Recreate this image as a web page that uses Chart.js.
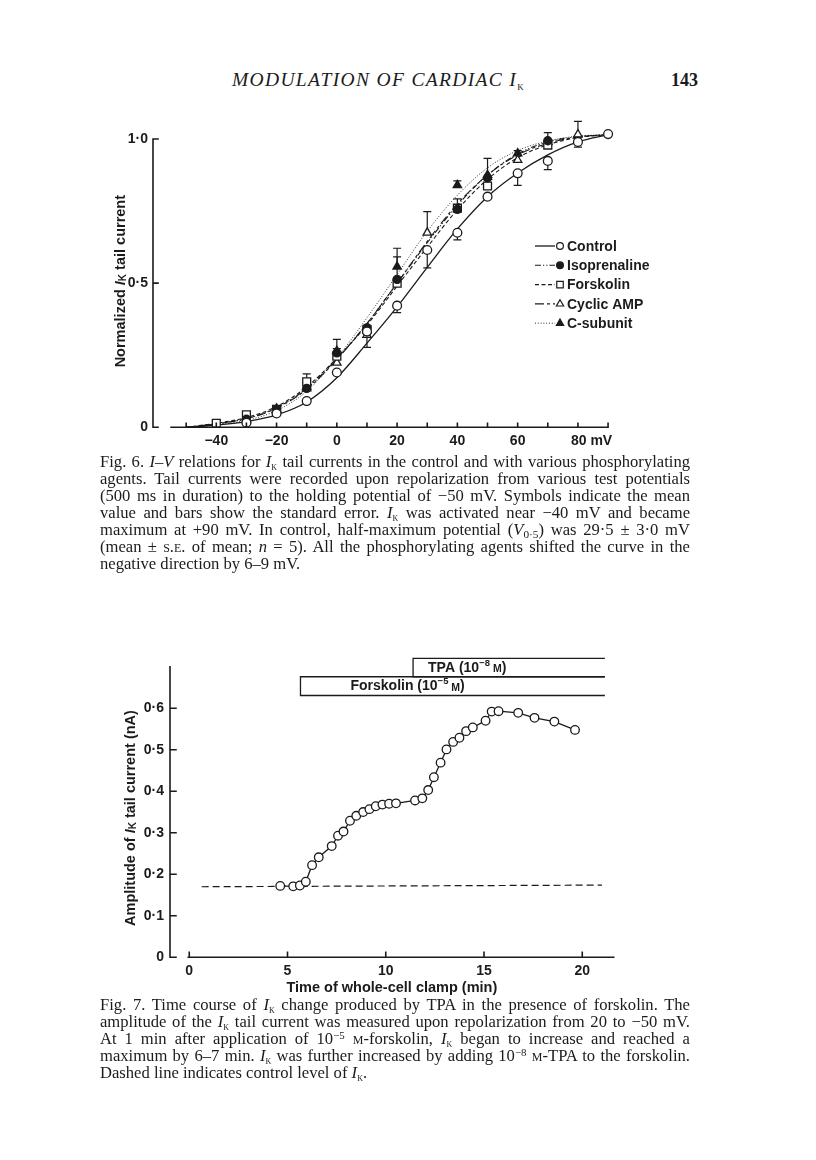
<!DOCTYPE html>
<html>
<head>
<meta charset="utf-8">
<script src="https://cdn.jsdelivr.net/npm/chart.js@4.4.1/dist/chart.umd.min.js"></script>
<style>
  html, body { margin:0; padding:0; background:#fff; }
  body { width:816px; height:1160px; position:relative; overflow:hidden; color:#1b1b1b;
         font-family:"Liberation Serif","Times New Roman",serif; }
  .hdr { position:absolute; top:70px; font-size:19.5px; line-height:20px; white-space:nowrap; }
  .cap { position:absolute; left:100px; width:590px; font-size:16.6px; line-height:17px; }
  .cap .ln { height:17px; text-align:justify; text-align-last:justify; white-space:nowrap; }
  .cap .ln.last { text-align:left; text-align-last:left; }
  .cap .ln.measure { text-align:left; text-align-last:left; }
  sub { font-size:0.68em; vertical-align:-0.28em; line-height:0; }
  sup { font-size:0.66em; vertical-align:0.5em; line-height:0; }
  .sc { font-variant:small-caps; }
  canvas { position:absolute; }
</style>
</head>
<body>
<div class="hdr" id="runhead" style="left:232px;"><i>MODULATION OF CARDIAC I</i><sub class="sc">k</sub></div>
<div class="hdr" style="left:671px;font-weight:bold;font-size:18px;">143</div>

<canvas id="fig6" width="560" height="350" style="left:90px;top:110px;width:560px;height:350px;"></canvas>

<div class="cap" style="top:453px;">
  <div class="ln"><span>Fig. 6. <i>I–V</i> relations for <i>I</i><sub class="sc">k</sub> tail currents in the control and with various phosphorylating</span></div>
  <div class="ln"><span>agents. Tail currents were recorded upon repolarization from various test potentials</span></div>
  <div class="ln"><span>(500 ms in duration) to the holding potential of −50 mV. Symbols indicate the mean</span></div>
  <div class="ln"><span>value and bars show the standard error. <i>I</i><sub class="sc">k</sub> was activated near −40 mV and became</span></div>
  <div class="ln"><span>maximum at +90 mV. In control, half-maximum potential (<i>V</i><sub>0·5</sub>) was 29·5 ± 3·0 mV</span></div>
  <div class="ln"><span>(mean ± <span class="sc">s.e.</span> of mean; <i>n</i> = 5). All the phosphorylating agents shifted the curve in the</span></div>
  <div class="ln last"><span>negative direction by 6–9 mV.</span></div>
</div>

<canvas id="fig7" width="540" height="370" style="left:100px;top:640px;width:540px;height:370px;"></canvas>

<div class="cap" style="top:996px;">
  <div class="ln"><span>Fig. 7. Time course of <i>I</i><sub class="sc">k</sub> change produced by TPA in the presence of forskolin. The</span></div>
  <div class="ln"><span>amplitude of the <i>I</i><sub class="sc">k</sub> tail current was measured upon repolarization from 20 to −50 mV.</span></div>
  <div class="ln"><span>At 1 min after application of 10<sup>−5</sup> <span class="sc">m</span>-forskolin, <i>I</i><sub class="sc">k</sub> began to increase and reached a</span></div>
  <div class="ln"><span>maximum by 6–7 min. <i>I</i><sub class="sc">k</sub> was further increased by adding 10<sup>−8</sup> <span class="sc">m</span>-TPA to the forskolin.</span></div>
  <div class="ln last"><span>Dashed line indicates control level of <i>I</i><sub class="sc">k</sub>.</span></div>
</div>

<script>
// ---------------- DATA : Fig. 6 (I–V relations) ----------------
const fig6XTickValues = [-40, -20, 0, 20, 40, 60, 80];
const fig6XTickLabels = ['\u221240', '\u221220', '0', '20', '40', '60', '       80 mV'];
const fig6XMinorTicks = [-50, -40, -30, -20, -10, 0, 10, 20, 30, 40, 50, 60, 70, 80, 90];
const fig6YTickValues = [0, 0.5, 1.0];
const fig6YTickLabels = ['0', '0·5', '1·0'];

const ctrlV      = [-30, -20, -10, 0, 10, 20, 30, 40, 50, 60, 70, 80, 90];
const ctrlMean   = [0.016, 0.048, 0.091, 0.19, 0.332, 0.422, 0.615, 0.675, 0.80, 0.881, 0.924, 0.99, 1.017];
const ctrlErrDn  = [0, 0, 0, 0, 0.055, 0.024, 0.062, 0.025, 0, 0.042, 0.03, 0.018, 0];

const isoV       = [-30, -20, -10, 0, 10, 20, 40, 50, 70];
const isoMean    = [0.028, 0.062, 0.135, 0.258, 0.345, 0.513, 0.756, 0.865, 0.994];
const isoErrUp   = [0, 0, 0, 0.015, 0, 0.078, 0.036, 0, 0];

const forskV     = [-40, -30, -20, -10, 0, 10, 20, 40, 50, 70];
const forskMean  = [0.014, 0.043, 0.062, 0.158, 0.247, 0.34, 0.50, 0.76, 0.837, 0.979];
const forskErrUp = [0, 0, 0, 0.027, 0, 0, 0, 0, 0, 0.043];

const campV      = [-30, -20, -10, 0, 10, 30, 50, 60, 80];
const campMean   = [0.025, 0.06, 0.135, 0.224, 0.32, 0.675, 0.868, 0.927, 1.016];
const campErrUp  = [0, 0, 0, 0, 0, 0.073, 0.065, 0, 0.045];

const csubV      = [-20, -10, 0, 20, 40, 50, 60, 70];
const csubMean   = [0.065, 0.14, 0.265, 0.557, 0.84, 0.875, 0.95, 0.99];
const csubErrUp  = [0, 0, 0.04, 0.064, 0.015, 0, 0.01, 0];

// fitted curves
const curveV       = [-50, -40, -30, -20, -10, 0, 10, 20, 30, 40, 50, 60, 70, 80, 90];
const curveControl = [0, 0.008, 0.02, 0.043, 0.088, 0.172, 0.292, 0.418, 0.555, 0.688, 0.80, 0.882, 0.945, 0.99, 1.015];
const curveIso     = [0, 0.012, 0.03, 0.068, 0.135, 0.238, 0.36, 0.50, 0.64, 0.77, 0.875, 0.948, 0.99, 1.008, 1.015];
const curveForsk   = [0, 0.014, 0.034, 0.072, 0.14, 0.24, 0.355, 0.49, 0.625, 0.755, 0.86, 0.935, 0.98, 1.005, 1.015];
const curveCamp    = [0, 0.012, 0.03, 0.066, 0.132, 0.235, 0.36, 0.50, 0.645, 0.775, 0.875, 0.945, 0.985, 1.007, 1.015];
const curveCsub    = [0, 0.009, 0.024, 0.058, 0.125, 0.24, 0.38, 0.53, 0.68, 0.805, 0.90, 0.96, 0.993, 1.01, 1.015];

const fig6SeriesNames = ['Control', 'Isoprenaline', 'Forskolin', 'Cyclic AMP', 'C-subunit'];

// ---------------- DATA : Fig. 7 (time course) ----------------
const fig7XTickValues = [0, 5, 10, 15, 20];
const fig7XTickLabels = ['0', '5', '10', '15', '20'];
const fig7YTickValues = [0, 0.1, 0.2, 0.3, 0.4, 0.5, 0.6];
const fig7YTickLabels = ['0', '0·1', '0·2', '0·3', '0·4', '0·5', '0·6'];

const timeMin = [4.63, 5.29, 5.63, 5.93, 6.25, 6.59, 7.25, 7.57, 7.85, 8.18, 8.50, 8.85, 9.17, 9.49, 9.83,
                 10.17, 10.52, 11.49, 11.86, 12.16, 12.45, 12.79, 13.09, 13.43, 13.75, 14.09, 14.43,
                 15.08, 15.39, 15.74, 16.74, 17.57, 18.58, 19.63];
const ampNA   = [0.172, 0.171, 0.173, 0.182, 0.222, 0.241, 0.268, 0.293, 0.303, 0.329, 0.341, 0.350, 0.357, 0.364, 0.368,
                 0.370, 0.371, 0.378, 0.383, 0.403, 0.434, 0.469, 0.501, 0.519, 0.529, 0.545, 0.554,
                 0.570, 0.592, 0.593, 0.589, 0.577, 0.568, 0.548];
const controlLevelT = [0.63, 21.0];
const controlLevelA = [0.170, 0.174];

const drugNames     = ['Forskolin', 'TPA'];
const drugExponents = ['\u22125', '\u22128'];
const drugStartMin  = [5.66, 11.39];
const drugEndMin    = 21.15;
const drugBarTop    = [0.676, 0.7205];
const drugBarBottom = [0.6308, 0.676];

// ---------------- STYLE ----------------
const INK = '#1b1b1b';
const SANS = '"Liberation Sans", Arial, Helvetica, sans-serif';
const tickFont = { family: SANS, size: 14, weight: 'bold' };
const xy = (xs, ys) => xs.map((x, i) => ({ x, y: ys[i] }));

// ---------------- PLUGINS ----------------
const axesInward = {
  id: 'axesInward',
  afterDraw(chart, args, o) {
    const { ctx, chartArea } = chart, xs = chart.scales.x, ys = chart.scales.y;
    ctx.save();
    ctx.strokeStyle = INK; ctx.lineWidth = o.lw; ctx.lineCap = 'square';
    const xl = chartArea.left, y0 = ys.getPixelForValue(0);
    ctx.beginPath();
    ctx.moveTo(xl, ys.getPixelForValue(o.yLine[0])); ctx.lineTo(xl, ys.getPixelForValue(o.yLine[1]));
    o.yTicks.forEach(v => { const y = ys.getPixelForValue(v); ctx.moveTo(xl, y); ctx.lineTo(xl + o.yTickLen, y); });
    ctx.moveTo(xs.getPixelForValue(o.xLine[0]), y0); ctx.lineTo(xs.getPixelForValue(o.xLine[1]), y0);
    o.xTicks.forEach(v => { const x = xs.getPixelForValue(v); ctx.moveTo(x, y0); ctx.lineTo(x, y0 - o.xTickLen); });
    ctx.stroke();
    ctx.restore();
  }
};

const errorBars = {
  id: 'errorBars',
  beforeDatasetsDraw(chart, args, o) {
    const { ctx } = chart, ys = chart.scales.y;
    ctx.save(); ctx.strokeStyle = INK; ctx.lineWidth = o.lw;
    chart.data.datasets.forEach((ds, i) => {
      if (!ds.errUp && !ds.errDown) return;
      const meta = chart.getDatasetMeta(i);
      meta.data.forEach((pt, j) => {
        const v = ds.data[j].y;
        [[ds.errUp, 1], [ds.errDown, -1]].forEach(([arr, s]) => {
          if (!arr || !arr[j]) return;
          const y2 = ys.getPixelForValue(v + s * arr[j]);
          ctx.beginPath();
          ctx.moveTo(pt.x, pt.y); ctx.lineTo(pt.x, y2);
          ctx.moveTo(pt.x - o.cap, y2); ctx.lineTo(pt.x + o.cap, y2);
          ctx.stroke();
        });
      });
    });
    ctx.restore();
  }
};

function drawMarker(ctx, style, r, x, y, fill) {
  ctx.beginPath();
  if (style === 'circle') ctx.arc(x, y, r, 0, Math.PI * 2);
  else if (style === 'rect') { const s = r * Math.SQRT1_2; ctx.rect(x - s, y - s, 2 * s, 2 * s); }
  else { ctx.moveTo(x, y - r); ctx.lineTo(x + r * 0.866, y + r * 0.5); ctx.lineTo(x - r * 0.866, y + r * 0.5); ctx.closePath(); }
  ctx.fillStyle = fill; ctx.fill(); ctx.stroke();
}

const insideLegend = {
  id: 'insideLegend',
  afterDraw(chart, args, o) {
    const { ctx } = chart, dss = chart.data.datasets;
    ctx.save();
    o.pairs.forEach(([ci, pi], k) => {
      const y = o.y + k * o.step, c = dss[ci], p = dss[pi];
      ctx.strokeStyle = INK; ctx.lineWidth = c.borderWidth; ctx.setLineDash(c.borderDash || []);
      ctx.beginPath(); ctx.moveTo(o.x, y); ctx.lineTo(o.x + o.lineLen, y); ctx.stroke();
      ctx.setLineDash([]); ctx.lineWidth = 1.2;
      drawMarker(ctx, p.pointStyle, o.markR[p.pointStyle], o.x + o.lineLen + o.markGap, y, p.pointBackgroundColor);
      ctx.fillStyle = INK; ctx.font = `bold ${o.fontSize}px ${SANS}`; ctx.textBaseline = 'middle'; ctx.textAlign = 'left';
      ctx.fillText(p.label, o.x + o.lineLen + o.textGap, y + 1);
    });
    ctx.restore();
  }
};

function richWidth(ctx, segs) {
  return segs.reduce((w, s) => { ctx.font = s.font; return w + ctx.measureText(s.t).width; }, 0);
}
function drawRich(ctx, segs, x, y) {
  segs.forEach(s => { ctx.font = s.font; ctx.fillText(s.t, x, y + (s.dy || 0)); x += ctx.measureText(s.t).width; });
}

const yTitleRich = {
  id: 'yTitleRich',
  afterDraw(chart, args, o) {
    const { ctx, chartArea } = chart;
    ctx.save();
    ctx.fillStyle = INK; ctx.textBaseline = 'middle'; ctx.textAlign = 'left';
    ctx.translate(chartArea.left - o.dx, (chartArea.top + chartArea.bottom) / 2 + o.dy);
    ctx.rotate(-Math.PI / 2);
    const w = richWidth(ctx, o.segs);
    drawRich(ctx, o.segs, -w / 2, 0);
    ctx.restore();
  }
};

const drugBars = {
  id: 'drugBars',
  afterDraw(chart, args, o) {
    const { ctx } = chart, xs = chart.scales.x, ys = chart.scales.y;
    ctx.save();
    ctx.strokeStyle = INK; ctx.lineWidth = o.lw; ctx.fillStyle = INK; ctx.textBaseline = 'middle'; ctx.textAlign = 'left';
    drugNames.forEach((name, i) => {
      const xl = xs.getPixelForValue(drugStartMin[i]), xr = xs.getPixelForValue(drugEndMin);
      const yt = ys.getPixelForValue(drugBarTop[i]), yb = ys.getPixelForValue(drugBarBottom[i]);
      ctx.beginPath();
      ctx.moveTo(xr, yt); ctx.lineTo(xl, yt); ctx.lineTo(xl, yb); ctx.lineTo(xr, yb);
      ctx.stroke();
      const segs = [
        { t: name + ' (10', font: `bold ${o.fontSize}px ${SANS}` },
        { t: drugExponents[i], font: `bold ${o.supSize}px ${SANS}`, dy: -5 },
        { t: ' M', font: `bold ${o.scSize}px ${SANS}`, dy: 1 },
        { t: ')', font: `bold ${o.fontSize}px ${SANS}` }
      ];
      drawRich(ctx, segs, xl + o.textOffset[i], (yt + yb) / 2 + 0.5);
    });
    ctx.restore();
  }
};

// ---------------- FIG. 6 ----------------
const markerCommon = { showLine: false, borderColor: INK, pointBorderColor: INK, pointBorderWidth: 1.3, clip: false };
const curveCommon = { showLine: true, pointRadius: 0, borderColor: INK, fill: false, cubicInterpolationMode: 'monotone', clip: false };

new Chart(document.getElementById('fig6'), {
  type: 'scatter',
  data: {
    datasets: [
      { ...markerCommon, label: fig6SeriesNames[0], data: xy(ctrlV, ctrlMean),  pointStyle: 'circle',   pointRadius: 4.4, pointBackgroundColor: '#fff', errDown: ctrlErrDn },
      { ...markerCommon, label: fig6SeriesNames[1], data: xy(isoV, isoMean),    pointStyle: 'circle',   pointRadius: 4.0, pointBackgroundColor: INK, errUp: isoErrUp },
      { ...markerCommon, label: fig6SeriesNames[2], data: xy(forskV, forskMean),pointStyle: 'rect',     pointRadius: 5.6, pointBackgroundColor: '#fff', errUp: forskErrUp },
      { ...markerCommon, label: fig6SeriesNames[3], data: xy(campV, campMean),  pointStyle: 'triangle', pointRadius: 4.8, pointBackgroundColor: '#fff', errUp: campErrUp },
      { ...markerCommon, label: fig6SeriesNames[4], data: xy(csubV, csubMean),  pointStyle: 'triangle', pointRadius: 4.8, pointBackgroundColor: INK, errUp: csubErrUp },
      { ...curveCommon, label: fig6SeriesNames[0] + ' fit', data: xy(curveV, curveControl), borderWidth: 1.3, borderDash: [] },
      { ...curveCommon, label: fig6SeriesNames[1] + ' fit', data: xy(curveV, curveIso),     borderWidth: 1.1, borderDash: [6, 2, 1.2, 2, 1.2, 2] },
      { ...curveCommon, label: fig6SeriesNames[2] + ' fit', data: xy(curveV, curveForsk),   borderWidth: 1.1, borderDash: [4, 2.5] },
      { ...curveCommon, label: fig6SeriesNames[3] + ' fit', data: xy(curveV, curveCamp),    borderWidth: 1.1, borderDash: [9, 3, 3, 3] },
      { ...curveCommon, label: fig6SeriesNames[4] + ' fit', data: xy(curveV, curveCsub),    borderWidth: 0.9, borderDash: [1, 1.8] }
    ]
  },
  options: {
    responsive: false, animation: false, devicePixelRatio: 1,
    layout: { padding: { left: 0, top: 29, right: 35.9, bottom: 0 } },
    plugins: {
      legend: { display: false }, tooltip: { enabled: false },
      axesInward: { lw: 1.6, yLine: [0, 1], yTicks: fig6YTickValues, yTickLen: 5, xLine: [-55, 90], xTicks: fig6XMinorTicks, xTickLen: 4 },
      errorBars: { lw: 1.2, cap: 4 },
      insideLegend: { pairs: [[5, 0], [6, 1], [7, 2], [8, 3], [9, 4]], x: 445, y: 136, step: 19.3, lineLen: 20, markGap: 5, textGap: 12,
                      fontSize: 14, markR: { circle: 3.4, rect: 4.6, triangle: 4.2 } },
      yTitleRich: { dx: 32.5, dy: -2, segs: [
        { t: 'Normalized ', font: `bold 14.5px ${SANS}` },
        { t: 'I', font: `italic bold 14.5px ${SANS}` },
        { t: 'K', font: `bold 10px ${SANS}`, dy: 3 },
        { t: ' tail current', font: `bold 14.5px ${SANS}` } ] }
    },
    scales: {
      x: {
        type: 'linear', min: -61, max: 92,
        afterBuildTicks: s => { s.ticks = fig6XTickValues.map(v => ({ value: v })); },
        afterFit: s => { s.height = 32.7; },
        ticks: { callback: (v, i) => fig6XTickLabels[i], font: tickFont, color: INK, padding: 5.5, maxRotation: 0, autoSkip: false },
        grid: { display: false, drawTicks: false }, border: { display: false }
      },
      y: {
        min: 0, max: 1,
        afterBuildTicks: s => { s.ticks = fig6YTickValues.map(v => ({ value: v })); },
        afterFit: s => { s.width = 63; },
        ticks: { callback: (v, i) => fig6YTickLabels[i], font: tickFont, color: INK, padding: 5, autoSkip: false },
        grid: { display: false, drawTicks: false }, border: { display: false }
      }
    }
  },
  plugins: [errorBars, axesInward, insideLegend, yTitleRich]
});

// ---------------- FIG. 7 ----------------
new Chart(document.getElementById('fig7'), {
  type: 'scatter',
  data: {
    datasets: [
      { label: 'Amplitude', data: xy(timeMin, ampNA), showLine: true, tension: 0, borderColor: INK, borderWidth: 1.3,
        pointStyle: 'circle', pointRadius: 4.3, pointBackgroundColor: '#fff', pointBorderColor: INK, pointBorderWidth: 1.3 },
      { label: 'Control level', data: xy(controlLevelT, controlLevelA), showLine: true, borderColor: INK, borderWidth: 1.2,
        borderDash: [7, 4], pointRadius: 0 }
    ]
  },
  options: {
    responsive: false, animation: false, devicePixelRatio: 1,
    layout: { padding: { left: 0, top: 26.8, right: 26.3, bottom: 0 } },
    plugins: {
      legend: { display: false }, tooltip: { enabled: false },
      axesInward: { lw: 1.6, yLine: [0, 0.70], yTicks: fig7YTickValues, yTickLen: 6, xLine: [-0.05, 21.6], xTicks: fig7XTickValues, xTickLen: 5 },
      drugBars: { lw: 1.3, fontSize: 14, supSize: 9.5, scSize: 10.5, textOffset: [50, 15] },
      yTitleRich: { dx: 39.3, dy: 6, segs: [
        { t: 'Amplitude of ', font: `bold 14.5px ${SANS}` },
        { t: 'I', font: `italic bold 14.5px ${SANS}` },
        { t: 'K', font: `bold 10px ${SANS}`, dy: 3 },
        { t: ' tail current (nA)', font: `bold 14.5px ${SANS}` } ] }
    },
    scales: {
      x: {
        type: 'linear', min: -0.98, max: 21.6,
        afterBuildTicks: s => { s.ticks = fig7XTickValues.map(v => ({ value: v })); },
        afterFit: s => { s.height = 52.7; },
        ticks: { callback: (v, i) => fig7XTickLabels[i], font: tickFont, color: INK, padding: 5.5, maxRotation: 0, autoSkip: false },
        title: { display: true, text: 'Time of whole-cell clamp (min)', color: INK,
                 font: { family: SANS, size: 14.5, weight: 'bold' }, padding: { top: 0, bottom: 13 } },
        grid: { display: false, drawTicks: false }, border: { display: false }
      },
      y: {
        min: 0, max: 0.70,
        afterBuildTicks: s => { s.ticks = fig7YTickValues.map(v => ({ value: v })); },
        afterFit: s => { s.width = 70; },
        ticks: { callback: (v, i) => fig7YTickLabels[i], font: tickFont, color: INK, padding: 6, autoSkip: false },
        grid: { display: false, drawTicks: false }, border: { display: false }
      }
    }
  },
  plugins: [axesInward, drugBars, yTitleRich]
});

// ---------------- caption fitting: one common size per caption ----------------
document.querySelectorAll('.cap').forEach(cap => {
  const lines = [...cap.querySelectorAll('.ln')];
  let fs = 16.6;
  const tooWide = () => lines.some(ln => ln.querySelector('span').getBoundingClientRect().width > 589);
  lines.forEach(ln => ln.classList.add('measure'));
  while (tooWide() && fs > 10) { fs -= 0.1; cap.style.fontSize = fs + 'px'; }
  lines.forEach(ln => ln.classList.remove('measure'));
});
// running head: spread to the printed width
(() => {
  const h = document.getElementById('runhead');
  const w = h.getBoundingClientRect().width, n = h.textContent.length;
  h.style.letterSpacing = Math.max(0, (293 - w) / n) + 'px';
})();
</script>
</body>
</html>
